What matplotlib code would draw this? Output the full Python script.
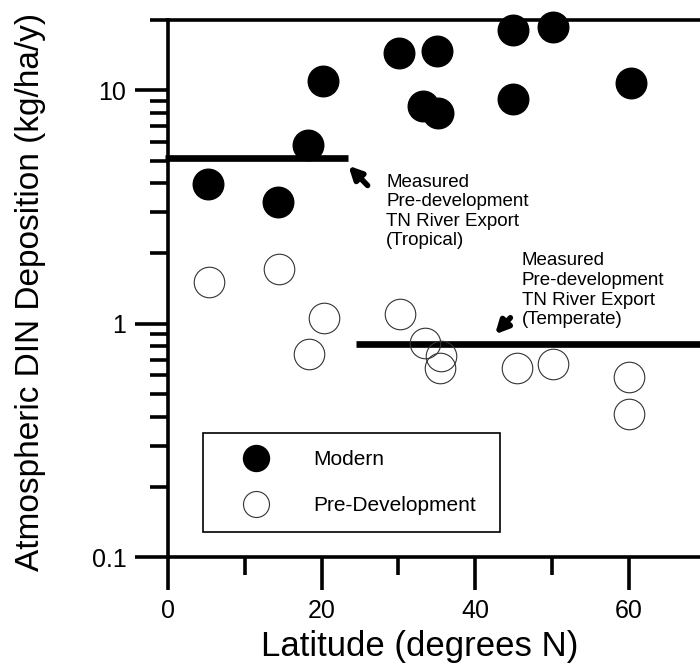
import matplotlib

matplotlib.use("Agg")
import matplotlib.pyplot as plt
from matplotlib.ticker import LogLocator, NullFormatter

plt.rcParams["font.family"] = ["Liberation Sans", "DejaVu Sans"]

# modern deposition (filled circles)
modern_lat = [5.2, 14.3, 18.2, 20.2, 30.1, 35.0, 33.2, 35.2, 44.9, 50.1, 44.9, 60.3]
modern_din = [3.95, 3.31, 5.81, 11.0, 14.5, 14.8, 8.54, 7.96, 18.2, 18.6, 9.15, 10.8]

# pre-development deposition (open circles)
predev_lat = [5.3, 14.5, 20.3, 18.4, 30.2, 33.5, 35.5, 35.4, 45.4, 50.1, 60.0, 60.0]
predev_din = [1.51, 1.71, 1.06, 0.74, 1.10, 0.825, 0.726, 0.645, 0.645, 0.67, 0.59, 0.41]

# measured pre-development TN river export
tropical_x = [-0.4, 23.5]
tropical_y = [5.15, 5.15]
temperate_x = [24.5, 69.3]
temperate_y = [0.82, 0.82]

x_ticks = [0, 20, 40, 60]
x_minor = [10, 30, 50]
y_ticks = [0.1, 1, 10]
y_labels = ["0.1", "1", "10"]

fig = plt.figure(figsize=(7.0, 6.64), dpi=100)
ax = fig.add_axes([0.24, 0.1611, 0.76, 0.8087])

ax.plot(tropical_x, tropical_y, color="black", lw=4.8, solid_capstyle="butt", clip_on=False)
ax.plot(temperate_x, temperate_y, color="black", lw=4.8, solid_capstyle="butt")

ax.plot(modern_lat, modern_din, "o", ms=22, mfc="black", mec="black",
        label="Modern", clip_on=False, zorder=3)
ax.plot(predev_lat, predev_din, "o", ms=22, mfc="none", mec="#333333", mew=0.8,
        label="Pre-Development", zorder=3)

ax.set_yscale("log")
ax.set_xlim(0, 69.3)
ax.set_ylim(0.1, 20)

ax.set_xticks(x_ticks)
ax.set_xticks(x_minor, minor=True)
ax.set_yticks(y_ticks, labels=y_labels)
ax.yaxis.set_minor_locator(LogLocator(base=10, subs=range(2, 10)))
ax.yaxis.set_minor_formatter(NullFormatter())

ax.tick_params(which="major", direction="out", length=24, width=2.6, labelsize=18, pad=6)
ax.tick_params(which="minor", direction="out", length=13, width=2.6)
ax.tick_params(axis="x", which="major", pad=6)

for side in ("left", "top", "bottom"):
    ax.spines[side].set_linewidth(2.6)
ax.spines["right"].set_visible(False)

ax.set_xlabel("Latitude (degrees N)", fontsize=25)
ax.xaxis.set_label_coords(0.474, -0.135)
ax.set_ylabel("Atmospheric DIN Deposition (kg/ha/y)", fontsize=24)
ax.yaxis.set_label_coords(-0.229, 0.493)

arrow = dict(arrowstyle="-|>", lw=4, color="black", mutation_scale=19, shrinkA=0, shrinkB=0)
ax.annotate("", xy=(23.5, 4.75), xytext=(26.0, 3.91), arrowprops=arrow)
ax.annotate("", xy=(42.6, 0.90), xytext=(44.6, 1.06), arrowprops=arrow)

ax.text(28.4, 4.40, "Measured\nPre-development\nTN River Export\n(Tropical)",
        fontsize=13.5, va="top", ha="left", linespacing=1.2)
ax.text(46.1, 2.02, "Measured\nPre-development\nTN River Export\n(Temperate)",
        fontsize=13.5, va="top", ha="left", linespacing=1.2)

leg = ax.legend(loc="lower left", bbox_to_anchor=(0.066, 0.047, 0.558, 0.18),
                mode="expand", fontsize=15, markerscale=0.85, frameon=True,
                fancybox=False, framealpha=1, edgecolor="black", borderaxespad=0,
                borderpad=0.8, labelspacing=1.3, handlelength=3.5, handletextpad=1.0)
leg.get_frame().set_linewidth(1.2)

fig.savefig("out.png", dpi=100)
